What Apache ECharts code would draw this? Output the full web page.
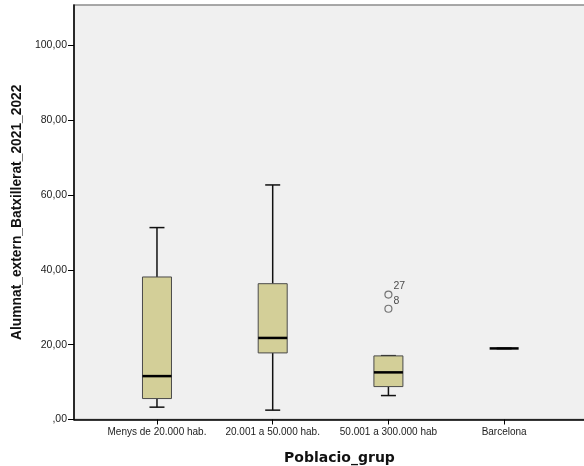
<!DOCTYPE html>
<html>
<head>
<meta charset="utf-8">
<script src="https://cdn.jsdelivr.net/npm/echarts@6/dist/echarts.min.js"></script>
<style>
html,body{margin:0;padding:0;background:#fff;}
#chart{width:584px;height:466px;}
</style>
</head>
<body>
<div id="chart"></div>
<script>
// ---- data ----
var categories = ['Menys de 20.000 hab.', '20.001 a 50.000 hab.', '50.001 a 300.000 hab', 'Barcelona'];
var whiskerLow = [3.3, 2.5, 6.4, 19.0];
var quart1 = [5.6, 17.8, 8.8, 19.0];
var medians = [11.6, 21.8, 12.6, 19.0];
var quart3 = [38.1, 36.3, 17.0, 19.0];
var whiskerHigh = [51.3, 62.7, 17.0, 19.0];
var outlierGroup = [2, 2];
var outlierValues = [33.4, 29.6];
var outlierIds = ['27', '8'];
var yTicks = [0, 20, 40, 60, 80, 100];
var xTicks = [1, 2, 3, 4];

var boxRows = categories.map(function (c, i) {
  return [i + 1, whiskerLow[i], quart1[i], medians[i], quart3[i], whiskerHigh[i]];
});
var outlierRows = outlierValues.map(function (v, i) {
  return { value: [outlierGroup[i] + 1, v], name: outlierIds[i] };
});

var chart = echarts.init(document.getElementById('chart'), null, { renderer: 'canvas' });
var BOX_W = 29, CAP_W = 15, MED_W = 30;

function renderBox(params, api) {
  var x = api.value(0);
  var lo = api.coord([x, api.value(1)]);
  var q1 = api.coord([x, api.value(2)]);
  var md = api.coord([x, api.value(3)]);
  var q3 = api.coord([x, api.value(4)]);
  var hi = api.coord([x, api.value(5)]);
  var cx = lo[0];
  var children = [];
  var wStyle = { stroke: '#111', lineWidth: 1.5 };
  if (hi[1] < q3[1]) {
    children.push({ type: 'line', shape: { x1: cx, y1: q3[1], x2: cx, y2: hi[1] }, style: wStyle });
    children.push({ type: 'line', shape: { x1: cx - CAP_W / 2, y1: hi[1], x2: cx + CAP_W / 2, y2: hi[1] }, style: wStyle });
  } else {
    children.push({ type: 'line', shape: { x1: cx - CAP_W / 2, y1: hi[1], x2: cx + CAP_W / 2, y2: hi[1] }, style: { stroke: '#111', lineWidth: 2 } });
  }
  if (lo[1] > q1[1]) {
    children.push({ type: 'line', shape: { x1: cx, y1: q1[1], x2: cx, y2: lo[1] }, style: wStyle });
    children.push({ type: 'line', shape: { x1: cx - CAP_W / 2, y1: lo[1], x2: cx + CAP_W / 2, y2: lo[1] }, style: wStyle });
  }
  if (q1[1] - q3[1] > 0.5) {
    children.push({ type: 'rect', shape: { x: cx - BOX_W / 2, y: q3[1], width: BOX_W, height: q1[1] - q3[1] },
      style: { fill: '#d3cf98', stroke: '#4a4a4a', lineWidth: 1 } });
  }
  children.push({ type: 'line', shape: { x1: cx - MED_W / 2 + 0.5, y1: md[1], x2: cx + MED_W / 2 - 0.5, y2: md[1] },
    style: { stroke: '#000', lineWidth: 2.5 } });
  return { type: 'group', children: children };
}

chart.setOption({
  animation: false,
  backgroundColor: '#ffffff',
  textStyle: { fontFamily: 'Liberation Sans, Arial, sans-serif' },
  grid: { left: 74, right: -3, top: 5, bottom: 46.5, outerBoundsMode: 'none', containLabel: false,
    show: true, backgroundColor: '#f0f0f0', borderColor: '#8c8c8c', borderWidth: 1.5 },
  xAxis: {
    type: 'value', min: 0.283, max: 4.716,
    name: 'Poblacio_grup', nameLocation: 'middle', nameGap: 32,
    nameTextStyle: { fontFamily: 'DejaVu Sans', fontWeight: 'bold', fontSize: 14, color: '#111', padding: [0, 0, 0, 18] },
    axisLine: { show: true, onZero: false, lineStyle: { color: '#000', width: 1.5 } },
    axisTick: { show: true, customValues: xTicks, length: 5, lineStyle: { color: '#000', width: 1 } },
    axisLabel: { customValues: xTicks, margin: 8, fontSize: 10, color: '#222',
      formatter: function (v) { return categories[Math.round(v) - 1] || ''; } },
    splitLine: { show: false }
  },
  yAxis: {
    type: 'value', min: 0, max: 110.8,
    name: 'Alumnat_extern_Batxillerat_2021_2022', nameLocation: 'middle', nameGap: 48,
    nameTextStyle: { fontFamily: 'Liberation Sans', fontWeight: 'bold', fontSize: 13.8, color: '#111' },
    axisLine: { show: true, onZero: false, lineStyle: { color: '#000', width: 1.5 } },
    axisTick: { show: true, customValues: yTicks, length: 6, lineStyle: { color: '#000', width: 1 } },
    axisLabel: { customValues: yTicks, margin: 7, fontSize: 10.5, color: '#222',
      formatter: function (v) { return v === 0 ? ',00' : v.toFixed(2).replace('.', ','); } },
    splitLine: { show: false }
  },
  series: [
    {
      type: 'custom', renderItem: renderBox, data: boxRows,
      encode: { x: 0, y: [1, 2, 3, 4, 5] }, z: 3
    },
    {
      type: 'scatter', data: outlierRows, symbol: 'circle', symbolSize: 7,
      itemStyle: { color: 'rgba(0,0,0,0)', borderColor: '#555', borderWidth: 1.2 },
      label: { show: true, position: 'right', distance: 1, offset: [0, -8], fontSize: 10.5, color: '#222',
        formatter: function (p) { return p.name; } },
      z: 4
    }
  ]
});
</script>
</body>
</html>
